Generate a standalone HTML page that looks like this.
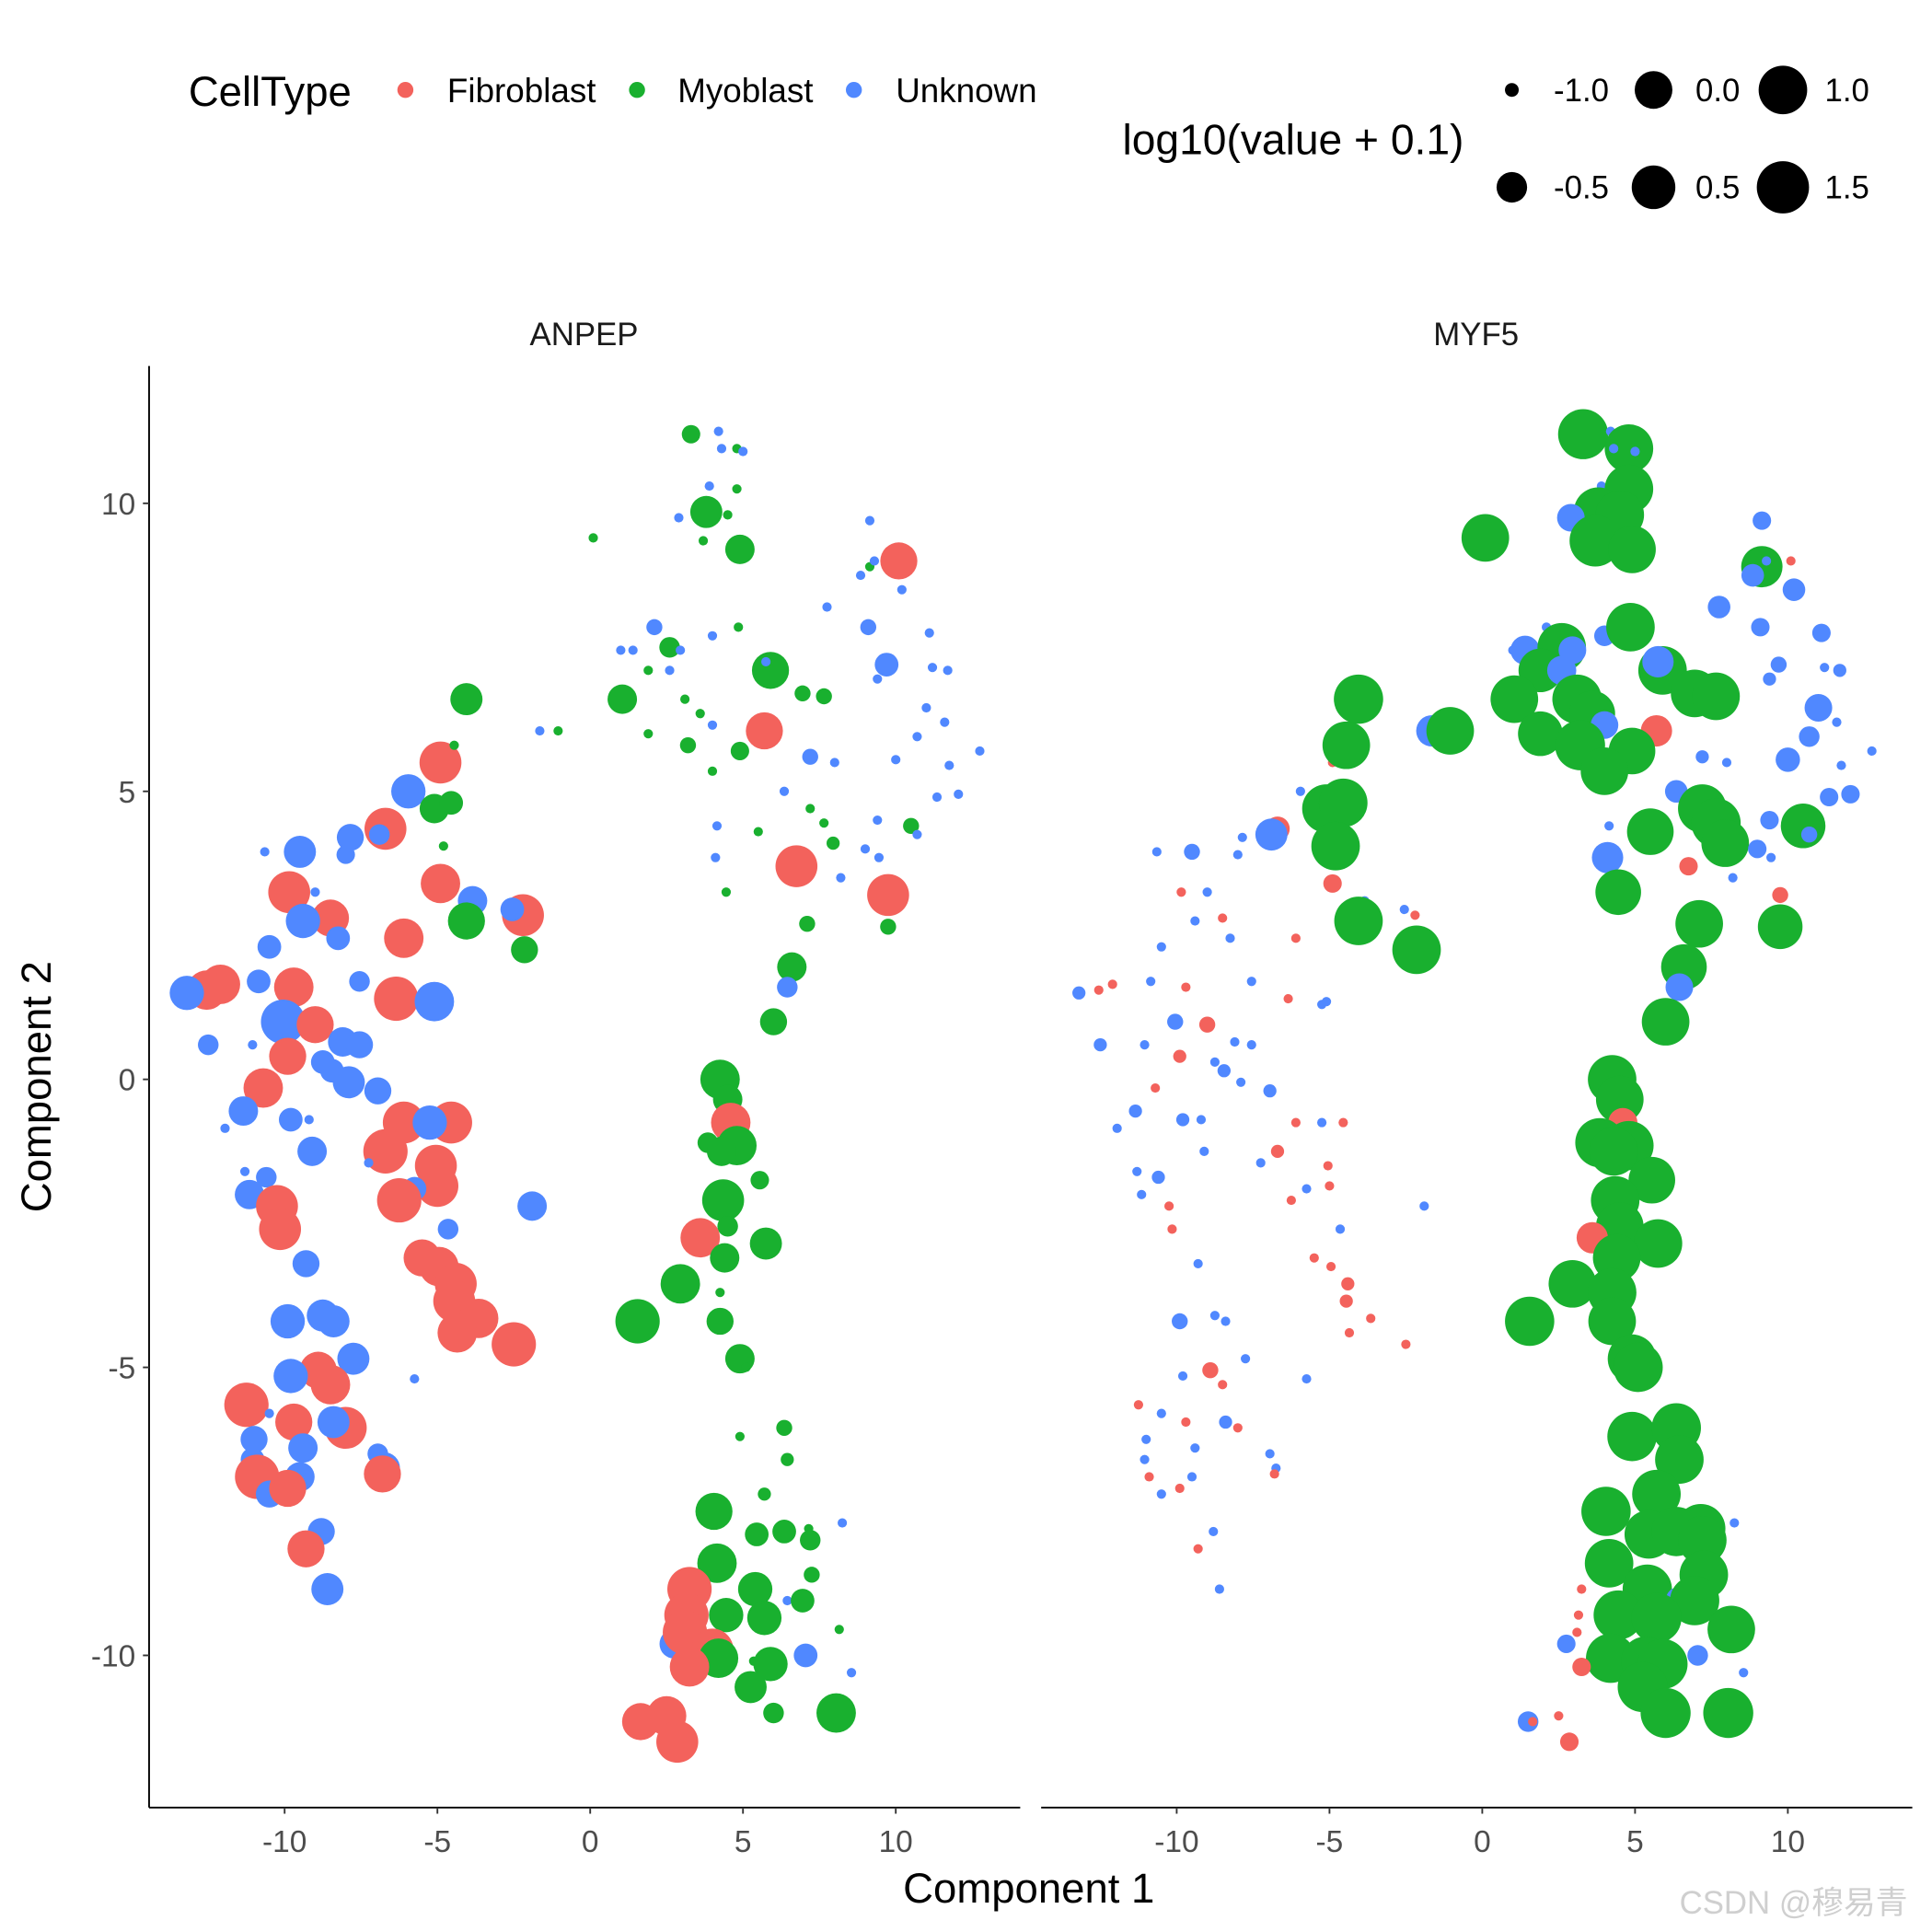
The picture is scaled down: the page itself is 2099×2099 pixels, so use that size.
<!DOCTYPE html>
<html><head><meta charset="utf-8"><style>
html,body{margin:0;padding:0;background:#fff;}
svg{display:block;font-family:"Liberation Sans",Arial,sans-serif;}
</style></head><body>
<svg id="chart" xmlns="http://www.w3.org/2000/svg" width="2099" height="2099" viewBox="0 0 1568 1568">
<rect x="0" y="0" width="1568" height="1568" fill="#fff"/>
<g id="legend-celltype">
<text x="153" y="86" font-size="34" fill="#000">CellType</text>
<circle cx="329" cy="73" r="6.5" fill="#F3625C"/>
<text x="363" y="83" font-size="27.5" fill="#000">Fibroblast</text>
<circle cx="517" cy="73" r="6.5" fill="#19B02F"/>
<text x="550" y="83" font-size="27.5" fill="#000">Myoblast</text>
<circle cx="693" cy="73" r="6.5" fill="#5088FF"/>
<text x="727" y="83" font-size="27.5" fill="#000">Unknown</text>
</g>
<g id="legend-size">
<text x="911" y="125" font-size="34.5" fill="#000">log10(value + 0.1)</text>
</g>
<text x="474" y="280" font-size="26" text-anchor="middle" fill="#1a1a1a">ANPEP</text>
<text x="1198" y="280" font-size="26" text-anchor="middle" fill="#1a1a1a">MYF5</text>
<g id="axes"></g>
<g id="points-anpep"></g>
<g id="points-myf5"></g>
<text x="835" y="1544" font-size="34" text-anchor="middle" fill="#000">Component 1</text>
<text transform="translate(41,882) rotate(-90)" font-size="34" text-anchor="middle" fill="#000">Component 2</text>
<text x="1363" y="1553" font-size="26" fill="#cfcfcf" font-family="Liberation Sans, Noto Sans CJK SC, sans-serif">CSDN @穆易青</text>
</svg>
<script>
const cellX = [3.3,4.2,4.8,5.0,4.3,3.9,4.8,3.8,2.9,4.5,3.7,4.9,0.1,9.15,10.1,9.15,9.3,8.85,10.2,7.75,2.1,1.0,1.4,2.6,2.95,4.0,4.85,9.1,11.1,1.9,2.6,5.9,5.75,9.7,9.4,11.2,11.7,1.05,3.1,3.6,4.0,6.95,7.65,11.0,11.6,-1.65,-1.05,1.9,5.7,3.2,4.9,7.2,8.0,10.7,12.75,11.75,10.0,4.0,6.35,11.35,12.05,7.2,4.15,5.5,7.65,9.4,10.5,10.7,7.95,9.0,9.45,4.1,6.75,8.2,4.45,9.75,7.1,9.75,6.6,6.45,6.0,
4.25,4.5,4.6,3.85,4.8,4.3,5.55,4.35,4.5,3.6,5.75,4.4,2.95,4.25,1.55,4.25,4.9,5.1,
4.9,6.35,6.45,5.7,4.05,8.25,7.15,5.45,6.35,7.2,4.15,7.25,3.25,5.4,6.45,6.95,3.15,4.45,5.7,8.15,2.75,3.1,4.0,4.2,5.35,5.9,7.05,3.25,8.55,5.25,6.0,8.05,1.5,1.65,2.5,2.85,
-4.05,-4.9,-4.45,-5.95,-5.1,-4.55,-6.7,-6.9,-7.85,-8.0,-4.8,-10.65,-9.5,-4.9,-3.85,-9.85,-9.0,-2.2,-2.55,-8.5,-9.4,-4.05,-8.25,-6.1,-2.15,-10.5,-7.55,-10.85,-12.1,-12.55,-13.2,-9.7,-6.35,-5.1,-5.25,-10.05,-9.0,-12.5,-11.05,-8.1,-7.55,-9.9,-8.75,-8.45,-7.9,-6.95,-10.7,-11.35,-11.95,-9.8,-9.2,-6.1,-4.55,-5.25,-6.7,-9.1,-7.25,-5.05,-11.3,-10.6,-5.0,-11.15,-5.75,-6.25,-1.9,-10.25,-10.15,-4.65,-5.5,-4.95,-9.3,-4.4,-4.45,-3.65,-8.75,-9.9,-8.4,-4.35,-2.5,-7.75,-5.75,-8.9,-9.8,-8.5,-11.25,-10.5,-9.7,-8.0,-8.4,-11.0,-9.4,-6.95,-11.05,-6.75,-6.8,-10.9,-9.5,-10.5,-9.9,-8.8,-9.3,-8.6];
const cellY = [11.2,11.25,10.95,10.9,10.95,10.3,10.25,9.85,9.75,9.8,9.35,9.2,9.4,9.7,9.0,8.9,9.0,8.75,8.5,8.2,7.85,7.45,7.45,7.5,7.45,7.7,7.85,7.85,7.75,7.1,7.1,7.1,7.25,7.2,6.95,7.15,7.1,6.6,6.6,6.35,6.15,6.7,6.65,6.45,6.2,6.05,6.05,6.0,6.05,5.8,5.7,5.6,5.5,5.95,5.7,5.45,5.55,5.35,5.0,4.9,4.95,4.7,4.4,4.3,4.45,4.5,4.4,4.25,4.1,4.0,3.85,3.85,3.7,3.5,3.25,3.2,2.7,2.65,1.95,1.6,1.0,
0.0,-0.35,-0.75,-1.1,-1.15,-1.25,-1.75,-2.1,-2.55,-2.75,-2.85,-3.1,-3.55,-3.7,-4.2,-4.2,-4.85,-5.0,
-6.2,-6.05,-6.6,-7.2,-7.5,-7.7,-7.8,-7.9,-7.85,-8.0,-8.4,-8.6,-8.85,-8.85,-9.05,-9.05,-9.3,-9.3,-9.35,-9.55,-9.8,-9.6,-9.9,-10.05,-10.1,-10.15,-10.0,-10.2,-10.3,-10.55,-11.0,-11.0,-11.15,-11.15,-11.05,-11.5,
6.6,5.5,5.8,5.0,4.7,4.8,4.35,4.25,4.2,3.9,4.05,3.95,3.95,3.4,3.1,3.25,3.25,2.85,2.95,2.8,2.75,2.75,2.45,2.45,2.25,2.3,1.7,1.7,1.65,1.55,1.5,1.6,1.4,1.35,1.3,1.0,0.95,0.6,0.6,0.65,0.6,0.4,0.3,0.15,-0.05,-0.2,-0.15,-0.55,-0.85,-0.7,-0.7,-0.75,-0.75,-0.75,-1.25,-1.25,-1.45,-1.5,-1.6,-1.7,-1.85,-2.0,-1.9,-2.1,-2.2,-2.2,-2.6,-2.6,-3.1,-3.25,-3.2,-3.55,-3.85,-4.15,-4.1,-4.2,-4.2,-4.4,-4.6,-4.85,-5.2,-5.05,-5.15,-5.3,-5.65,-5.8,-5.95,-6.05,-5.95,-6.25,-6.4,-6.5,-6.6,-6.75,-6.85,-6.9,-6.9,-7.2,-7.1,-7.85,-8.15,-8.85];
const cellType = ("MUMUUUMMUM"+"MMMUFMUUUU"+"UUUMUUMUUM"+"UMUUUUUMMM"+"UMMUUUMMFM"+"MUUUUUUMUU"+"UMUMMUMUMU"+"UUFUMFMMMUM"+
 "MMFMMMMMMFMMMMMMMM"+
 "MMMMMUMMMM"+"MMFMUMFMMM"+"UFFMMMUFUM"+"MMUFFF"+
 "MFMUMMFUUU"+"MUUFUFUFUF"+"UMUFMUUUFF"+"UFFUUUFUUU"+"UFUUUUFUUU"+"UFFUFUUFUU"+"FUUFUFFUFF"+"UFFFUUUFFU"+"UFUFFUFFUU"+"UUUUFFUUFU"+"FU").split("");
const anpepValue = [-0.85,-1,-1,-1,-1,-1,-1,-0.4,-1,-1,-1,-0.54,-1,-1,-0.05,-1,-1,-1,-1,-1,-0.9,-1,-1,-0.8,-1,-1,-1,-0.9,-1,-1,-1,-0.05,-1,-0.72,-1,-1,-1,-0.54,-1,-1,-1,-0.9,-0.9,-1,-1,-1,-1,-1,-0.05,-0.9,-0.85,-0.9,-1,-1,-1,-1,-1,-1,-1,-1,-1,-1,-1,-1,-1,-1,-0.9,-1,-0.95,-1,-1,-1,0.35,-1,-1,0.35,-0.9,-0.9,-0.54,-0.8,-0.62,
0.14,-0.54,0.14,-0.8,0.14,-0.54,-0.85,0.35,-0.8,0.14,-0.4,-0.54,0.14,-1,0.57,-0.62,-0.54,-1,
-1,-0.9,-0.95,-0.95,-0.05,-1,-1,-0.72,-0.72,-0.8,0.14,-0.9,0.57,-0.25,-1,-0.72,0.57,-0.25,-0.25,-1,-0.54,0.57,0.35,0.14,-1,-0.25,-0.72,0.14,-1,-0.4,-0.8,0.14,-0.8,-0.05,0.14,0.35,
-0.4,0.35,-1,-0.25,-0.54,-0.72,0.35,-0.8,-0.62,-0.85,-1,-1,-0.4,0.14,-0.54,0.35,-1,0.35,-0.72,-0.05,-0.25,-0.05,-0.72,0.14,-0.62,-0.72,-0.8,-0.72,0.14,0.14,-0.25,0.14,0.57,0.14,-0.72,0.57,-0.05,-0.8,-1,-0.54,-0.62,-0.05,-0.72,-0.72,-0.4,-0.62,0.14,-0.54,-1,-0.72,-1,0.35,0.35,-0.25,0.57,-0.54,-1,0.35,-1,-0.8,0.35,-0.54,-0.72,0.57,-0.54,0.35,0.35,-0.8,-0.05,0.14,-0.62,0.35,0.35,0.14,-0.4,-0.25,-0.4,0.14,0.57,-0.4,-1,-0.05,-0.25,0.14,0.57,-1,-0.05,0.35,-0.4,-0.62,-0.54,-0.8,-0.72,-0.4,-0.05,0.57,-0.54,-0.62,-0.05,-0.62,-0.05,-0.4];
const myf5Value = [1.2,-1,1.0,-1,-1,-1,1.0,1.1,-0.6,1.0,1.4,0.9,0.9,-0.85,-1,0.3,-1,-0.75,-0.75,-0.75,-1,-1,-0.55,1.0,-0.6,-0.8,1.0,-0.85,-0.85,0.5,-0.55,1.0,-0.45,-0.9,-0.95,-1,-0.95,0.9,1.1,0.7,-0.6,0.9,0.9,-0.6,-1,-0.45,0.9,0.6,-0.45,1.2,0.8,-0.95,-1,-0.8,-1,-1,-0.7,0.9,-0.75,-0.85,-0.85,1.0,-1,0.8,1.1,-0.85,0.6,-0.9,0.9,-0.85,-1,-0.45,-0.85,-1,0.7,-0.9,0.9,0.6,0.7,-0.6,0.9,
1.0,0.9,-0.55,1.1,1.1,1.0,0.8,1.0,0.9,-0.45,1.0,0.9,0.9,1.0,1.1,0.9,1.0,1.1,
1.1,1.1,1.0,1.0,1.1,-1,1.1,1.0,1.1,1.0,1.0,1.0,-1,1.1,-0.6,1.1,-1,1.1,1.2,0.9,-0.85,-1,-1,1.1,1.1,1.2,-0.8,-0.85,-1,1.2,1.2,1.2,-0.8,-1,-1,-0.85,
1.1,-1,0.9,-1,1.0,1.0,-0.7,-0.4,-1,-1,1.0,-1,-0.9,-0.85,-1,-1,-1,-1,-1,-1,-1,1.0,-1,-1,1.0,-1,-1,-1,-1,-1,-0.95,-1,-1,-1,-1,-0.9,-0.9,-0.95,-1,-1,-1,-0.95,-1,-0.95,-1,-0.95,-1,-0.95,-1,-0.95,-1,-1,-1,-1,-0.95,-1,-1,-1,-1,-0.95,-1,-1,-1,-1,-1,-1,-1,-1,-1,-1,-1,-0.95,-0.95,-1,-1,-0.9,-1,-1,-1,-1,-1,-0.9,-1,-1,-1,-1,-1,-1,-0.95,-1,-1,-1,-1,-1,-1,-1,-1,-1,-1,-1,-1,-1];
const xTicks = [-10,-5,0,5,10];
const yTicks = [10,5,0,-5,-10];
const sizeBreaks = [-1.0,-0.5,0.0,0.5,1.0,1.5];
const sizeLabels = ["-1.0","-0.5","0.0","0.5","1.0","1.5"];
const typeColors = {F:"#F3625C", M:"#19B02F", U:"#5088FF"};

const NS = "http://www.w3.org/2000/svg";
const panels = [{x0:121,x1:828,zero:479,g:"points-anpep",vals:anpepValue,name:"anpep"},
                {x0:845,x1:1552,zero:1203,g:"points-myf5",vals:myf5Value,name:"myf5"}];
const PXU = 24.8, PYU = 46.75, YZERO = 876, YTOP = 297, YBOT = 1467;
function sx(p, v){ return p.zero + v*PXU; }
function sy(v){ return YZERO - v*PYU; }
const rKnotsV = [-1,-0.5,0,0.5,1,1.5], rKnotsR = [3.8,12.4,15.3,17.7,19.7,21.2];
function rScale(v){
  if (v <= rKnotsV[0]) return rKnotsR[0];
  for (let i=1;i<rKnotsV.length;i++){
    if (v <= rKnotsV[i]){
      const t=(v-rKnotsV[i-1])/(rKnotsV[i]-rKnotsV[i-1]);
      const a=rKnotsR[i-1]*rKnotsR[i-1], b=rKnotsR[i]*rKnotsR[i];
      return Math.sqrt(a+(b-a)*t);
    }
  }
  return rKnotsR[rKnotsR.length-1];
}
function mk(tag, attrs, parent){
  const e=document.createElementNS(NS,tag);
  for (const k in attrs) e.setAttribute(k, attrs[k]);
  parent.appendChild(e); return e;
}
const axes=document.getElementById("axes");
const yl=mk("line",{x1:121,y1:YTOP,x2:121,y2:YBOT,stroke:"#000","stroke-width":1.4},axes);


yTicks.forEach(v=>{
  const t=mk("line",{x1:116,x2:121,y1:sy(v),y2:sy(v),stroke:"#333","stroke-width":1.4},axes);
  
  
  const l=mk("text",{x:110,y:sy(v)+9,"font-size":25,"text-anchor":"end",fill:"#4d4d4d"},axes);
  l.textContent=String(v);
  
  
});
panels.forEach(p=>{
  const xl=mk("line",{x1:p.x0,y1:YBOT,x2:p.x1,y2:YBOT,stroke:"#000","stroke-width":1.4},axes);
  
  
  xTicks.forEach(v=>{
    const t=mk("line",{x1:sx(p,v),x2:sx(p,v),y1:YBOT,y2:YBOT+5,stroke:"#333","stroke-width":1.4},axes);
    
    
    const l=mk("text",{x:sx(p,v),y:1503,"font-size":25,"text-anchor":"middle",fill:"#4d4d4d"},axes);
    l.textContent=String(v);
    
    
  });
  const g=document.getElementById(p.g);
  for (let i=0;i<cellX.length;i++){
    const c=mk("circle",{cx:sx(p,cellX[i]),cy:sy(cellY[i]),r:rScale(p.vals[i]).toFixed(2),fill:typeColors[cellType[i]]||"#5088FF"},g);
    
    
  }
});
const sl=document.getElementById("legend-size");
const legPos=[[1227,73],[1227,152],[1342,73],[1342,152],[1447,73],[1447,152]];
sizeBreaks.forEach((v,i)=>{
  const r = i===0 ? 5.6 : rScale(v);
  const c=mk("circle",{cx:legPos[i][0],cy:legPos[i][1],r:r,fill:"#000"},sl);
  
  
  const t=mk("text",{x:legPos[i][0]+34,y:legPos[i][1]+9,"font-size":26,fill:"#000"},sl);
  t.textContent=sizeLabels[i];
  
  
});
</script>
</body></html>
